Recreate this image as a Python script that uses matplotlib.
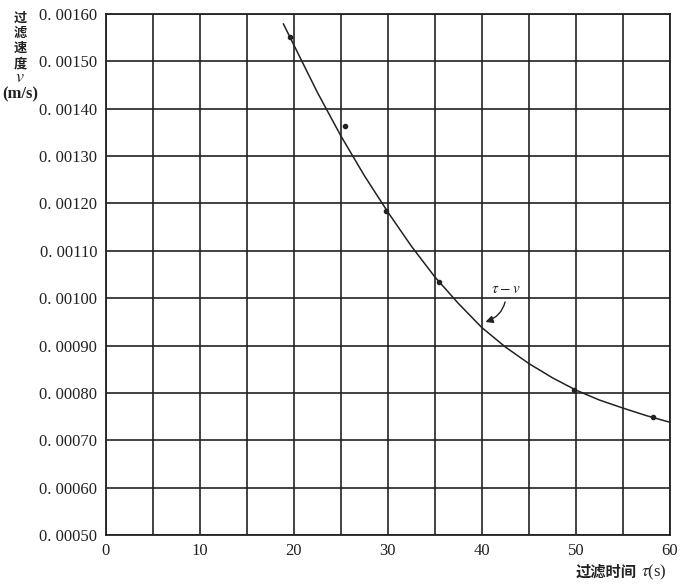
import numpy as np
import matplotlib.pyplot as plt
from matplotlib.ticker import MultipleLocator, FuncFormatter

# measured points (time s, filtration velocity m/s)
tau_pts = [19.6, 25.5, 29.8, 35.4, 49.8, 58.2]
v_pts = [0.001551, 0.001364, 0.001184, 0.001035, 0.000807, 0.000750]

# hand-drawn fitted curve
tau_curve = [18.9, 20, 22.5, 25, 27.5, 30, 32.5, 35, 37.5, 40, 42.5, 45, 47.5, 50, 52.5, 55, 57.5, 60]
v_curve = [0.001579, 0.001535, 0.001435, 0.001343, 0.001259, 0.001182, 0.001110, 0.001045,
           0.000989, 0.000938, 0.000897, 0.000862, 0.000832, 0.000806, 0.000785, 0.000768,
           0.000752, 0.000738]

plt.rcParams['font.family'] = ['Liberation Serif', 'Noto Sans CJK SC']
plt.rcParams['mathtext.fontset'] = 'stix'

fig = plt.figure(figsize=(7, 5.85), dpi=100)
ax = fig.add_axes([0.151, 0.0855, 0.806, 0.8905])

ax.plot(tau_curve, v_curve, color='#222222', lw=1.1)
ax.plot(tau_pts, v_pts, 'o', color='#222222', ms=3)

ax.set_xlim(0, 60)
ax.set_ylim(0.0005, 0.0016)
ax.xaxis.set_major_locator(MultipleLocator(10))
ax.xaxis.set_minor_locator(MultipleLocator(5))
ax.yaxis.set_major_locator(MultipleLocator(0.0001))
ax.yaxis.set_major_formatter(FuncFormatter(lambda y, p: '0. ' + f'{y:.5f}'[2:]))
ax.grid(which='both', color='#222222', lw=1.2)
ax.tick_params(which='both', length=0, labelsize=12, colors='#222222', pad=6)
for s in ax.spines.values():
    s.set_color('#222222')
    s.set_linewidth(1.3)

ax.annotate(r'$\tau-v$', xy=(40.1, 0.000948), xytext=(41.0, 0.00101),
            fontsize=11, color='#222222',
            arrowprops=dict(arrowstyle='-|>', color='#222222', lw=1,
                            connectionstyle='arc3,rad=-0.4'))

cjk = dict(ha='center', va='center', fontsize=9.5, fontweight='bold',
           family='Noto Sans CJK SC', color='#222222')
for ch, yy in zip('过滤速度', [18, 33, 48, 63]):
    fig.text(20 / 700, 1 - yy / 585, ch, **cjk)
fig.text(20 / 700, 1 - 78 / 585, r'$v$', ha='center', va='center', fontsize=13, color='#222222')
fig.text(20 / 700, 1 - 94 / 585, '(m/s)', ha='center', va='center', fontsize=12,
         fontweight='bold', color='#222222')
fig.text(637 / 700, 1 - 572 / 585, '过滤时间', ha='right', va='center', fontsize=11,
         fontweight='bold', family='Noto Sans CJK SC', color='#222222')
fig.text(641 / 700, 1 - 572 / 585, r'$\tau$(s)', ha='left', va='center', fontsize=12,
         color='#222222')

fig.savefig('out.png', dpi=100)
